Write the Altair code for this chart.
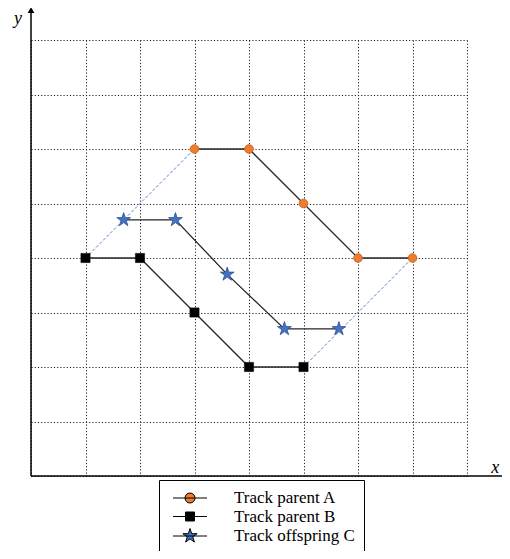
import altair as alt
import pandas as pd

# ---- data ----
series_names = ["Track parent A", "Track parent B", "Track offspring C"]
a_x = [3, 4, 5, 6, 7]
a_y = [6, 6, 5, 4, 4]
b_x = [1, 2, 3, 4, 5]
b_y = [4, 4, 3, 2, 2]
c_x = [1.7, 2.65, 3.6, 4.65, 5.65]
c_y = [4.7, 4.7, 3.7, 2.7, 2.7]
grid_values = [0, 1, 2, 3, 4, 5, 6, 7, 8]
axis_x_end = 8.9
axis_y_end = 8.55
axis_label_text = ["x", "y"]
axis_label_x = [8.52, -0.24]
axis_label_y = [0.15, 8.38]

# ---- styling ----
marker_fill = ["#ED7D31", "#000000", "#4472C4"]
marker_stroke = ["#C55A11", "#000000", "#2F528F"]
star_path = ("M0,-1L0.2245,-0.309L0.9511,-0.309L0.3633,0.118L0.5878,0.809L0,0.382"
             "L-0.5878,0.809L-0.3633,0.118L-0.9511,-0.309L-0.2245,-0.309Z")
legend_paths = [
    "M-0.47,0H3.53M0.942,0A0.588,0.588 0 1,0 2.118,0A0.588,0.588 0 1,0 0.942,0Z",
    "M-0.47,0H3.53M1.001,-0.529H2.059V0.529H1.001Z",
    "M-0.47,0H3.53M1.53,-0.882L1.728,-0.2725L2.3689,-0.2725L1.8504,0.1041L2.0484,0.7135"
    "L1.53,0.3369L1.0116,0.7135L1.2096,0.1041L0.6911,-0.2725L1.332,-0.2725Z",
]

tracks = pd.concat([
    pd.DataFrame({"x": xs, "y": ys, "series": name, "idx": list(range(len(xs)))})
    for name, xs, ys in zip(series_names, [a_x, b_x, c_x], [a_y, b_y, c_y])
], ignore_index=True)

links = pd.DataFrame({
    "x": [b_x[0], a_x[0], b_x[-1], a_x[-1]],
    "y": [b_y[0], a_y[0], b_y[-1], a_y[-1]],
    "seg": [0, 0, 1, 1],
})

axes_df = pd.DataFrame({"x": [0.0, 0.0], "y": [0.0, 0.0], "xe": [axis_x_end, 0.0], "ye": [0.0, axis_y_end]})
arrow_df = pd.DataFrame({"x": [0.0], "y": [axis_y_end]})
labels_df = pd.DataFrame({"x": axis_label_x, "y": axis_label_y, "t": axis_label_text})

xscale = alt.Scale(domain=[0, 8], nice=False, zero=False)
yscale = alt.Scale(domain=[0, 8], nice=False, zero=False)
grid_axis = alt.Axis(values=grid_values, grid=True, labels=False, ticks=False, domain=False,
                     title=None, gridColor="#222222", gridDash=[1.2, 2], gridWidth=1, gridOpacity=1)

X = alt.X("x:Q", scale=xscale, axis=grid_axis)
Y = alt.Y("y:Q", scale=yscale, axis=grid_axis)

dashed = alt.Chart(links).mark_line(color="#4472C4", strokeWidth=0.9, strokeDash=[3, 2]).encode(
    x=X, y=Y, detail="seg:N", order="seg:Q")

solid = alt.Chart(tracks).mark_line(color="#262626", strokeWidth=1.3).encode(
    x=X, y=Y, detail="series:N", order="idx:Q")

pa = alt.Chart(tracks[tracks.series == series_names[0]]).mark_point(
    shape="circle", filled=True, size=75, fill=marker_fill[0], stroke=marker_stroke[0],
    strokeWidth=0.8, opacity=1).encode(x=X, y=Y)
pb = alt.Chart(tracks[tracks.series == series_names[1]]).mark_point(
    shape="square", filled=True, size=85, fill=marker_fill[1], stroke=marker_stroke[1],
    strokeWidth=0.5, opacity=1).encode(x=X, y=Y)
pc = alt.Chart(tracks[tracks.series == series_names[2]]).mark_point(
    shape=star_path, filled=True, size=210, fill=marker_fill[2], stroke=marker_stroke[2],
    strokeWidth=0.8, opacity=1).encode(x=X, y=Y)

axis_lines = alt.Chart(axes_df).mark_rule(color="black", strokeWidth=1.5).encode(
    x=X, y=Y, x2="xe:Q", y2="ye:Q")
arrow = alt.Chart(arrow_df).mark_point(shape="triangle-up", filled=True, color="black",
                                       size=45, opacity=1).encode(x=X, y=Y)
axis_text = alt.Chart(labels_df).mark_text(font="Liberation Serif", fontStyle="italic",
                                           fontSize=18, color="black").encode(x=X, y=Y, text="t:N")

leg = alt.Legend(orient="none", legendX=128, legendY=440, title=None,
                 labelFont="Liberation Serif", labelFontSize=17, labelColor="black",
                 symbolSize=289, symbolStrokeWidth=1, labelOffset=48, padding=9,
                 rowPadding=1.5, strokeColor="black", fillColor="white", labelLimit=300,
                 symbolOpacity=1)
legend_layer = alt.Chart(tracks).transform_filter("false").mark_point(filled=True, opacity=1).encode(
    x=X, y=Y,
    shape=alt.Shape("series:N", scale=alt.Scale(domain=series_names, range=legend_paths), legend=leg),
    fill=alt.Fill("series:N", scale=alt.Scale(domain=series_names, range=marker_fill), legend=leg),
    stroke=alt.Stroke("series:N", scale=alt.Scale(domain=series_names, range=["black"] * 3), legend=leg),
)

chart = alt.layer(dashed, solid, pa, pb, pc, axis_lines, arrow, axis_text, legend_layer).properties(
    width=436, height=436, autosize="none",
    padding={"left": 23, "top": 32, "right": 35, "bottom": 75},
).configure_view(stroke=None)

chart.save("out.html", embed_options={"renderer": "svg", "actions": False})
